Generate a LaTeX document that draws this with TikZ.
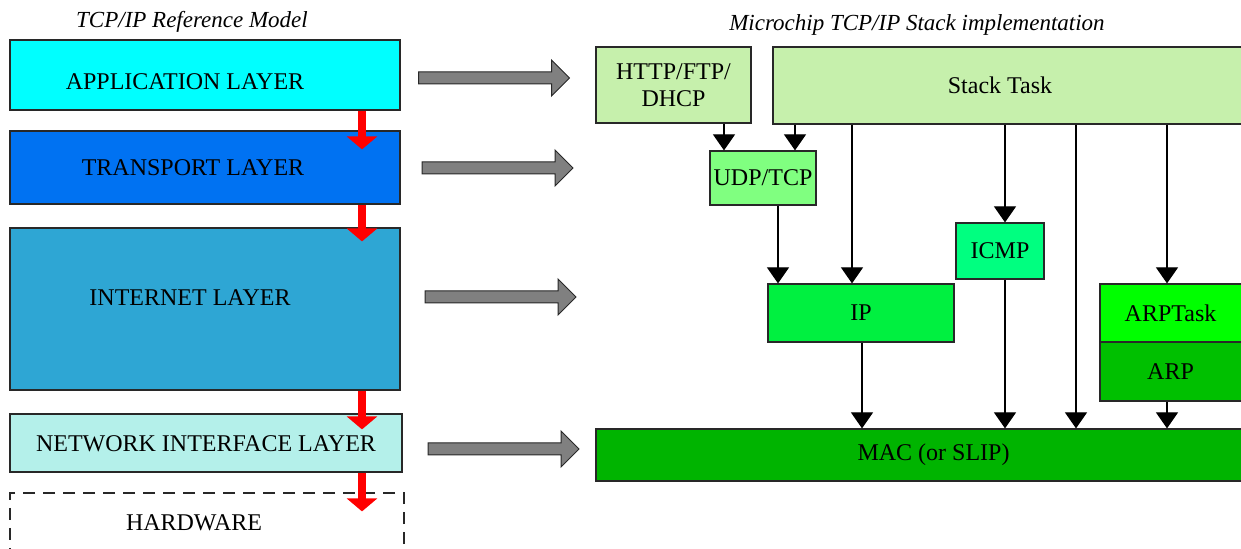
\documentclass[tikz,border=0pt]{standalone}
\usepackage{fontspec}
\setmainfont{Liberation Serif}
\usetikzlibrary{arrows.meta,fit,shapes.arrows,calc}
\definecolor{appc}{RGB}{0,255,255}
\definecolor{trc}{RGB}{0,114,242}
\definecolor{inc}{RGB}{46,166,212}
\definecolor{nic}{RGB}{180,240,234}
\definecolor{stc}{RGB}{198,240,172}
\definecolor{udpc}{RGB}{128,255,128}
\definecolor{icmpc}{RGB}{0,255,128}
\definecolor{ipc}{RGB}{0,240,64}
\definecolor{arptc}{RGB}{0,255,0}
\definecolor{arpc}{RGB}{0,192,0}
\definecolor{macc}{RGB}{0,180,0}
\definecolor{bordc}{RGB}{40,40,40}
\definecolor{garrc}{RGB}{128,128,128}
\begin{document}
\begin{tikzpicture}[x=0.5pt,y=-0.5pt,
  box/.style={draw=bordc, line width=0.6pt, inner sep=0pt},
  lbl/.style={font=\fontsize{12}{13.5}\selectfont, inner sep=0pt, align=center},
  ttl/.style={font=\fontsize{11.5}{13}\selectfont\itshape, inner sep=0pt},
  redarr/.style={draw=red, line width=4pt, -{Triangle[width=15pt,length=6.5pt]}},
  blk/.style={draw=black, line width=0.6pt, -{Triangle[width=11pt,length=8pt]}},
  garr/.style={single arrow, draw=bordc, fill=garrc, line width=0.5pt, minimum height=75.5pt, minimum width=17.5pt, single arrow head extend=6pt, single arrow head indent=0pt, inner sep=0pt}]
\useasboundingbox (0,0) rectangle (1241,549);
\clip (0,0) rectangle (1241,549);

% titles
\node[ttl] (t1) at (192,22) {TCP/IP Reference Model};
\node[ttl] (t2) at (917,25) {Microchip TCP/IP Stack implementation};

% reference model
\node[box, fill=appc, fit={(10,40) (400,110)}, label={[lbl,name=appT,xshift=-10pt,yshift=-3.5pt]center:APPLICATION LAYER}] (app) {};
\node[box, fill=trc, fit={(10,131) (400,204)}, label={[lbl,name=trT,xshift=-6pt]center:TRANSPORT LAYER}] (tr) {};
\node[box, fill=inc, fit={(10,228) (400,390)}, label={[lbl,name=inT,xshift=-7.5pt,yshift=5.5pt]center:INTERNET LAYER}] (inl) {};
\node[box, fill=nic, fit={(10,414) (402,472)}, label={[lbl,name=niT,yshift=-0.5pt]center:NETWORK INTERFACE LAYER}] (ni) {};
\node[box, dash pattern=on 6pt off 4pt, fit={(10,493) (404,570)}] (hw) {};
\node[lbl] (hwT) at (194,523) {HARDWARE};

% red arrows
\coordinate (rx) at (362,0);
\draw[redarr] (app.south -| rx) -- ([yshift=-9.5pt]tr.north -| rx);
\draw[redarr] (tr.south -| rx) -- ([yshift=-7pt]inl.north -| rx);
\draw[redarr] (inl.south -| rx) -- ([yshift=-8pt]ni.north -| rx);
\draw[redarr] (ni.south -| rx) -- ([yshift=-9.5pt]hw.north -| rx);

% gray block arrows
\node[garr] (ga1) at (491,78) {\rule{0pt}{5.5pt}};
\node[garr] (ga2) at (494.5,168) {\rule{0pt}{5.5pt}};
\node[garr] (ga3) at (497.5,297) {\rule{0pt}{5.5pt}};
\node[garr] (ga4) at (500.5,449) {\rule{0pt}{5.5pt}};

% stack implementation
\node[box, fill=stc, fit={(596,47) (751,123)}, label={[lbl,name=httpT]center:HTTP/FTP/\\DHCP}] (http) {};
\node[box, fill=stc, fit={(773,47) (1245,124)}, label={[lbl,name=stT,xshift=-4.5pt]center:Stack Task}] (stack) {};
\node[box, fill=udpc, fit={(710,151) (816,205)}, label={[lbl,name=udpT]center:UDP/TCP}] (udp) {};
\node[box, fill=icmpc, fit={(956,223) (1044,279)}, label={[lbl,name=icmpT]center:ICMP}] (icmp) {};
\node[box, fill=ipc, fit={(768,284) (954,342)}, label={[lbl,name=ipT]center:IP}] (ip) {};
\node[box, fill=arptc, fit={(1100,284) (1245,342)}, label={[lbl,name=arptT,xshift=-1pt]center:ARPTask}] (arpt) {};
\node[box, fill=arpc, fit={(1100,342) (1245,401)}, label={[lbl,name=arpT,xshift=-1pt]center:ARP}] (arp) {};
\node[box, fill=macc, fit={(596,429) (1245,481)}, label={[lbl,name=macT,xshift=6.5pt]center:MAC (or SLIP)}] (mac) {};

% connectors
\coordinate (x1) at (724,0);
\coordinate (x2) at (795,0);
\coordinate (x3) at (778,0);
\coordinate (x4) at (852,0);
\coordinate (x5) at (862,0);
\coordinate (x6) at (1005,0);
\coordinate (x7) at (1076,0);
\coordinate (x8) at (1167,0);
\draw[blk] (http.south -| x1) -- (udp.north -| x1);
\draw[blk] (stack.south -| x2) -- (udp.north -| x2);
\draw[blk] (udp.south -| x3) -- (ip.north -| x3);
\draw[blk] (stack.south -| x4) -- (ip.north -| x4);
\draw[blk] (ip.south -| x5) -- (mac.north -| x5);
\draw[blk] (stack.south -| x6) -- (icmp.north -| x6);
\draw[blk] (icmp.south -| x6) -- (mac.north -| x6);
\draw[blk] (stack.south -| x7) -- (mac.north -| x7);
\draw[blk] (stack.south -| x8) -- (arpt.north -| x8);
\draw[blk] (arp.south -| x8) -- (mac.north -| x8);
\end{tikzpicture}
\end{document}
